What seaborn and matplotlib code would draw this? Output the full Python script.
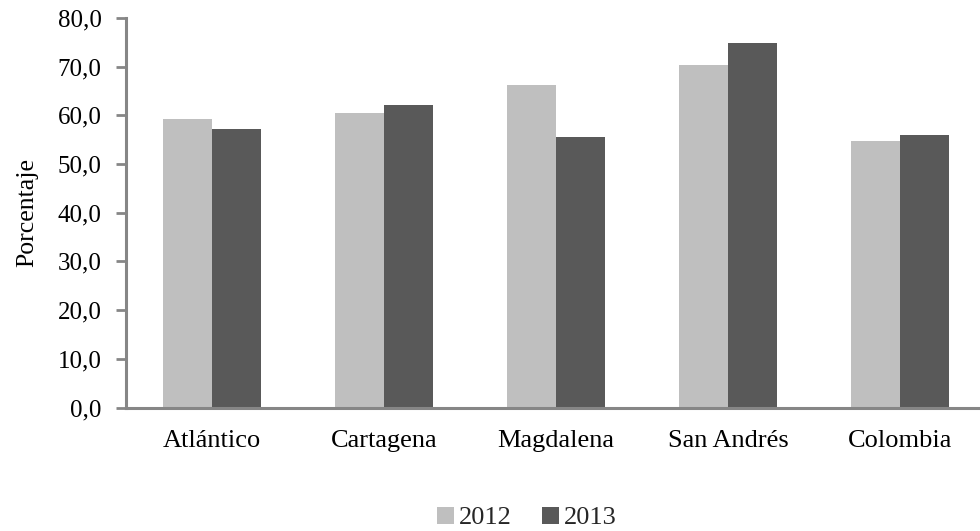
import matplotlib
matplotlib.use("Agg")
import matplotlib.pyplot as plt
import seaborn as sns
import pandas as pd
from matplotlib.patches import Patch

categories = ["Atlántico", "Cartagena", "Magdalena", "San Andrés", "Colombia"]
years = ["2012", "2013"]
values_2012 = [59.2, 60.5, 66.2, 70.3, 54.7]
values_2013 = [57.2, 62.1, 55.5, 74.9, 55.9]
yticks = [0, 10, 20, 30, 40, 50, 60, 70, 80]
ytick_labels = ["0,0", "10,0", "20,0", "30,0", "40,0", "50,0", "60,0", "70,0", "80,0"]
colors = ["#BFBFBF", "#595959"]

df = pd.DataFrame({
    "Región": categories * 2,
    "Año": [years[0]] * len(categories) + [years[1]] * len(categories),
    "Porcentaje": values_2012 + values_2013,
})

sns.set_theme(style="white")
plt.rcParams["font.family"] = ["Liberation Serif", "DejaVu Serif"]

fig = plt.figure(figsize=(9.8, 5.31), dpi=100)
ax = fig.add_axes([126 / 980, 1 - 407.5 / 531, (980 - 126) / 980, (407.5 - 18) / 531])

sns.barplot(data=df, x="Región", y="Porcentaje", hue="Año", order=categories,
            hue_order=years, palette=colors, width=0.57, saturation=1,
            linewidth=0, ax=ax, legend=False)

ax.set_xlim(-0.5, -0.5 + (980 - 126) / 172)
ax.set_ylim(0, 80)
ax.set_yticks(yticks)
ax.set_yticklabels(ytick_labels)
ax.set_xlabel("")
ax.set_ylabel("Porcentaje", fontsize=18.5, color="black", labelpad=14)

for s in ["top", "right"]:
    ax.spines[s].set_visible(False)
for s in ["left", "bottom"]:
    ax.spines[s].set_color("#868686")
    ax.spines[s].set_linewidth(2.2)

ax.tick_params(axis="y", which="major", direction="out", length=7.5, width=2,
               color="#868686", labelsize=18, labelcolor="black", pad=10, left=True)
ax.tick_params(axis="x", length=0, labelsize=19, labelcolor="black", pad=16)

handles = [Patch(facecolor=colors[0], edgecolor="none", label=years[0]),
           Patch(facecolor=colors[1], edgecolor="none", label=years[1])]
fig.legend(handles=handles, loc="center", bbox_to_anchor=(527 / 980, 1 - 518 / 531),
           ncol=2, frameon=False, fontsize=19, handlelength=0.62, handleheight=0.62,
           handletextpad=0.2, columnspacing=1.15, borderpad=0, borderaxespad=0)

fig.savefig("out.png", dpi=100)
